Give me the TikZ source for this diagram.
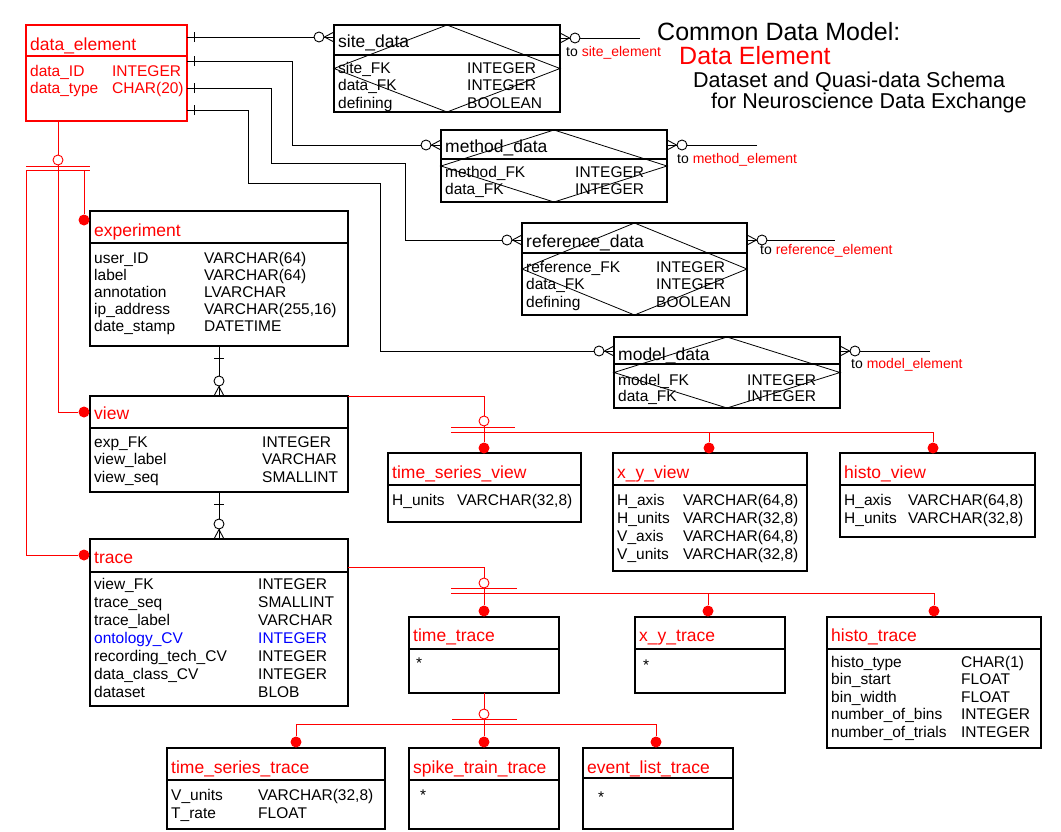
\documentclass[tikz,border=0pt]{standalone}
\usepackage{fontspec}
\setmainfont{Liberation Sans}
\usetikzlibrary{decorations.markings}
\newcommand{\fieldrows}[2]{\begin{tabular}[t]{@{}p{#1}@{}l@{}}#2\end{tabular}}

\begin{document}
\begin{tikzpicture}[
    x=1pt, y=-1pt,
    entity/.style={draw, line width=1.1pt, inner sep=0pt, outer sep=0pt, anchor=north west},
    hdr/.style={line width=1.8pt},
    cross/.style={line width=0.8pt},
    title/.style={anchor=base west, inner sep=0pt, text=red, font=\fontsize{17.5}{20}\selectfont},
    fields/.style={anchor=base west, inner sep=0pt, font=\fontsize{15.5}{17.5}\selectfont},
    tolabel/.style={anchor=base west, inner sep=0pt, font=\fontsize{14}{16}\selectfont},
    heading/.style={anchor=base west, inner sep=0pt, font=\fontsize{25}{28}\selectfont},
    subheading/.style={anchor=base west, inner sep=0pt, font=\fontsize{21.5}{24}\selectfont},
    rel/.style={line width=0.9pt},
    sub/.style={draw=red, line width=0.9pt},
    ring/.style={circle, draw=red, fill=white, line width=0.9pt, minimum size=10pt, inner sep=0pt},
    subdot/.style={circle, fill=red, minimum size=11pt, inner sep=0pt},
    one/.style={postaction={decorate, decoration={markings,
        mark=at position #1 with {\draw (0pt,-5pt) -- (0pt,5pt);}}}},
    one/.default=7pt,
    many/.style={postaction={decorate, decoration={markings,
        mark=at position 1 with {\draw (-9.5pt,0pt) -- (0pt,5pt) (-9.5pt,0pt) -- (0pt,-5pt);
                                 \draw[fill=white] (-15pt,0pt) circle[radius=5pt];}}}},
    ]
    \useasboundingbox (0,0) rectangle (1061,831);

    % Title
    \node[heading] (cdm) at (657,40) {Common Data Model:};
    \node[heading, text=red] (cdm-name) at (679,64) {Data Element};
    \node[subheading] (cdm-sub1) at (693,87) {Dataset and Quasi-data Schema};
    \node[subheading] (cdm-sub2) at (711,108) {for Neuroscience Data Exchange};

    % data_element
    \node[entity, draw=red, minimum width=161pt, minimum height=96pt] (dataelem) at (26,25) {};
    \draw[hdr, red] ([yshift=-31pt]dataelem.north west) -- ([yshift=-31pt]dataelem.north east);
    \node[title] (dataelem-t) at ([shift={(4pt,-25pt)}]dataelem.north west) {data\_element};
    \node[fields, text=red] (dataelem-f) at ([shift={(4pt,-51pt)}]dataelem.north west)
        {\fieldrows{82pt}{data\_ID & INTEGER\\ data\_type & CHAR(20)}};

    % Link tables
    \node[entity, minimum width=226pt, minimum height=87pt] (sitedata) at (334,25) {};
    \draw[hdr] ([yshift=-30pt]sitedata.north west) -- ([yshift=-30pt]sitedata.north east);
    \draw[cross] (sitedata.north) -- (sitedata.east) -- (sitedata.south) -- (sitedata.west) -- cycle;
    \node[title, text=black] (sitedata-t) at ([shift={(4pt,-22pt)}]sitedata.north west) {site\_data};
    \node[fields] (sitedata-f) at ([shift={(4pt,-48pt)}]sitedata.north west)
        {\fieldrows{129pt}{site\_FK & INTEGER\\ data\_FK & INTEGER\\ defining & BOOLEAN}};

    \node[entity, minimum width=226pt, minimum height=72pt] (methoddata) at (441,130) {};
    \draw[hdr] ([yshift=-29pt]methoddata.north west) -- ([yshift=-29pt]methoddata.north east);
    \draw[cross] (methoddata.north) -- (methoddata.east) -- (methoddata.south) -- (methoddata.west) -- cycle;
    \node[title, text=black] (methoddata-t) at ([shift={(4pt,-22pt)}]methoddata.north west) {method\_data};
    \node[fields] (methoddata-f) at ([shift={(4pt,-47pt)}]methoddata.north west)
        {\fieldrows{130pt}{method\_FK & INTEGER\\ data\_FK & INTEGER}};

    \node[entity, minimum width=225pt, minimum height=92pt] (refdata) at (522,223) {};
    \draw[hdr] ([yshift=-30pt]refdata.north west) -- ([yshift=-30pt]refdata.north east);
    \draw[cross] (refdata.north) -- (refdata.east) -- (refdata.south) -- (refdata.west) -- cycle;
    \node[title, text=black] (refdata-t) at ([shift={(4pt,-24pt)}]refdata.north west) {reference\_data};
    \node[fields] (refdata-f) at ([shift={(4pt,-49pt)}]refdata.north west)
        {\fieldrows{130pt}{reference\_FK & INTEGER\\ data\_FK & INTEGER\\ defining & BOOLEAN}};

    \node[entity, minimum width=226pt, minimum height=71pt] (modeldata) at (614,337) {};
    \draw[hdr] ([yshift=-27pt]modeldata.north west) -- ([yshift=-27pt]modeldata.north east);
    \draw[cross] (modeldata.north) -- (modeldata.east) -- (modeldata.south) -- (modeldata.west) -- cycle;
    \node[title, text=black] (modeldata-t) at ([shift={(4pt,-23pt)}]modeldata.north west) {model\_data};
    \node[fields, font=\fontsize{15.5}{16.5}\selectfont] (modeldata-f) at ([shift={(4pt,-48pt)}]modeldata.north west)
        {\fieldrows{129pt}{model\_FK & INTEGER\\ data\_FK & INTEGER}};

    % experiment / view / trace
    \node[entity, minimum width=258pt, minimum height=135pt] (experiment) at (90,211) {};
    \draw[hdr] ([yshift=-32pt]experiment.north west) -- ([yshift=-32pt]experiment.north east);
    \node[title] (experiment-t) at ([shift={(4pt,-25pt)}]experiment.north west) {experiment};
    \node[fields, font=\fontsize{15.5}{17.2}\selectfont] (experiment-f) at ([shift={(4pt,-52pt)}]experiment.north west)
        {\fieldrows{110pt}{user\_ID & VARCHAR(64)\\ label & VARCHAR(64)\\ annotation & LVARCHAR\\
         ip\_address & VARCHAR(255,16)\\ date\_stamp & DATETIME}};

    \node[entity, minimum width=258pt, minimum height=96pt] (view) at (90,396) {};
    \draw[hdr] ([yshift=-32pt]view.north west) -- ([yshift=-32pt]view.north east);
    \node[title] (view-t) at ([shift={(4pt,-23pt)}]view.north west) {view};
    \node[fields] (view-f) at ([shift={(4pt,-51pt)}]view.north west)
        {\fieldrows{168pt}{exp\_FK & INTEGER\\ view\_label & VARCHAR\\ view\_seq & SMALLINT}};

    \node[entity, minimum width=258pt, minimum height=167pt] (trace) at (90,539) {};
    \draw[hdr] ([yshift=-33pt]trace.north west) -- ([yshift=-33pt]trace.north east);
    \node[title] (trace-t) at ([shift={(4pt,-24pt)}]trace.north west) {trace};
    \node[fields, font=\fontsize{15.5}{18}\selectfont] (trace-f) at ([shift={(4pt,-50pt)}]trace.north west)
        {\fieldrows{164pt}{view\_FK & INTEGER\\ trace\_seq & SMALLINT\\ trace\_label & VARCHAR\\
         \textcolor{blue}{ontology\_CV} & \textcolor{blue}{INTEGER}\\ recording\_tech\_CV & INTEGER\\
         data\_class\_CV & INTEGER\\ dataset & BLOB}};

    % view subtypes
    \node[entity, minimum width=193pt, minimum height=69pt] (tsview) at (388,453) {};
    \draw[hdr] ([yshift=-32pt]tsview.north west) -- ([yshift=-32pt]tsview.north east);
    \node[title] (tsview-t) at ([shift={(4pt,-25pt)}]tsview.north west) {time\_series\_view};
    \node[fields] (tsview-f) at ([shift={(4pt,-52pt)}]tsview.north west)
        {\fieldrows{65pt}{H\_units & VARCHAR(32,8)}};

    \node[entity, minimum width=194pt, minimum height=118pt] (xyview) at (613,453) {};
    \draw[hdr] ([yshift=-32pt]xyview.north west) -- ([yshift=-32pt]xyview.north east);
    \node[title] (xyview-t) at ([shift={(4pt,-25pt)}]xyview.north west) {x\_y\_view};
    \node[fields, font=\fontsize{15.5}{18}\selectfont] (xyview-f) at ([shift={(4pt,-52pt)}]xyview.north west)
        {\fieldrows{66pt}{H\_axis & VARCHAR(64,8)\\ H\_units & VARCHAR(32,8)\\
         V\_axis & VARCHAR(64,8)\\ V\_units & VARCHAR(32,8)}};

    \node[entity, minimum width=195pt, minimum height=84pt] (histoview) at (840,453) {};
    \draw[hdr] ([yshift=-32pt]histoview.north west) -- ([yshift=-32pt]histoview.north east);
    \node[title] (histoview-t) at ([shift={(4pt,-25pt)}]histoview.north west) {histo\_view};
    \node[fields, font=\fontsize{15.5}{18}\selectfont] (histoview-f) at ([shift={(4pt,-52pt)}]histoview.north west)
        {\fieldrows{64pt}{H\_axis & VARCHAR(64,8)\\ H\_units & VARCHAR(32,8)}};

    % trace subtypes
    \node[entity, minimum width=150pt, minimum height=76pt] (timetrace) at (409,617) {};
    \draw[hdr] ([yshift=-32pt]timetrace.north west) -- ([yshift=-32pt]timetrace.north east);
    \node[title] (timetrace-t) at ([shift={(4pt,-24pt)}]timetrace.north west) {time\_trace};
    \node[fields] (timetrace-f) at ([shift={(7pt,-51pt)}]timetrace.north west) {*};

    \node[entity, minimum width=150pt, minimum height=76pt] (xytrace) at (635,617) {};
    \draw[hdr] ([yshift=-32pt]xytrace.north west) -- ([yshift=-32pt]xytrace.north east);
    \node[title] (xytrace-t) at ([shift={(4pt,-24pt)}]xytrace.north west) {x\_y\_trace};
    \node[fields] (xytrace-f) at ([shift={(8pt,-53pt)}]xytrace.north west) {*};

    \node[entity, minimum width=214pt, minimum height=131pt] (histotrace) at (827,617) {};
    \draw[hdr] ([yshift=-32pt]histotrace.north west) -- ([yshift=-32pt]histotrace.north east);
    \node[title] (histotrace-t) at ([shift={(4pt,-24pt)}]histotrace.north west) {histo\_trace};
    \node[fields] (histotrace-f) at ([shift={(4pt,-50pt)}]histotrace.north west)
        {\fieldrows{130pt}{histo\_type & CHAR(1)\\ bin\_start & FLOAT\\ bin\_width & FLOAT\\
         number\_of\_bins & INTEGER\\ number\_of\_trials & INTEGER}};

    % time_trace subtypes
    \node[entity, minimum width=218pt, minimum height=81pt] (tstrace) at (167,748) {};
    \draw[hdr] ([yshift=-32pt]tstrace.north west) -- ([yshift=-32pt]tstrace.north east);
    \node[title] (tstrace-t) at ([shift={(4pt,-25pt)}]tstrace.north west) {time\_series\_trace};
    \node[fields, font=\fontsize{15.5}{18}\selectfont] (tstrace-f) at ([shift={(4pt,-52pt)}]tstrace.north west)
        {\fieldrows{87pt}{V\_units & VARCHAR(32,8)\\ T\_rate & FLOAT}};

    \node[entity, minimum width=150pt, minimum height=81pt] (spiketrace) at (409,748) {};
    \draw[hdr] ([yshift=-32pt]spiketrace.north west) -- ([yshift=-32pt]spiketrace.north east);
    \node[title] (spiketrace-t) at ([shift={(4pt,-25pt)}]spiketrace.north west) {spike\_train\_trace};
    \node[fields] (spiketrace-f) at ([shift={(11pt,-52pt)}]spiketrace.north west) {*};

    \node[entity, minimum width=150pt, minimum height=81pt] (eventtrace) at (583,748) {};
    \draw[hdr] ([yshift=-30pt]eventtrace.north west) -- ([yshift=-30pt]eventtrace.north east);
    \node[title] (eventtrace-t) at ([shift={(4pt,-25pt)}]eventtrace.north west) {event\_list\_trace};
    \node[fields] (eventtrace-f) at ([shift={(15pt,-54pt)}]eventtrace.north west) {*};

    % Relationships of data_element
    \coordinate (m-bend) at (292,145);
    \coordinate (r-bend) at (271,163);
    \coordinate (r-bend2) at (405,240);
    \coordinate (d-bend) at (248,183);
    \coordinate (d-bend2) at (380,351);
    \draw[rel, one, many] (dataelem.east |- 0,37) -- (sitedata.west |- 0,37);
    \draw[rel, one, many] (dataelem.east |- 0,61) -| (m-bend) -- (methoddata.west |- m-bend);
    \draw[rel, one, many] (dataelem.east |- 0,88) -| (r-bend) -| (r-bend2) -- (refdata.west |- r-bend2);
    \draw[rel, one, many] (dataelem.east |- 0,110) -| (d-bend) -| (d-bend2) -- (modeldata.west |- d-bend2);

    % Links out to the other elements
    \coordinate (site-end) at (640,38);
    \coordinate (method-end) at (757,145);
    \coordinate (ref-end) at (835,240);
    \coordinate (model-end) at (930,351);
    \draw[rel, many] (site-end) -- (sitedata.east |- site-end);
    \draw[rel, many] (method-end) -- (methoddata.east |- method-end);
    \draw[rel, many] (ref-end) -- (refdata.east |- ref-end);
    \draw[rel, many] (model-end) -- (modeldata.east |- model-end);
    \node[tolabel] (site-to) at (566,56) {to \textcolor{red}{site\_element}};
    \node[tolabel] (method-to) at (677,163) {to \textcolor{red}{method\_element}};
    \node[tolabel] (ref-to) at (760,254) {to \textcolor{red}{reference\_element}};
    \node[tolabel] (model-to) at (851,368) {to \textcolor{red}{model\_element}};

    % experiment -> view -> trace
    \draw[rel, one=12pt, many] (experiment.south) -- (view.north);
    \draw[rel, one=12pt, many] (view.south) -- (trace.north);

    % Subtypes of data_element
    \node[ring] (de-ring) at (58,160) {};
    \node[subdot] (d-exp) at (84,220) {};
    \node[subdot] (d-view) at (84,412) {};
    \node[subdot] (d-trace) at (84,555) {};
    \coordinate (de-bar) at ([shift={(-32pt,-10.5pt)}]de-ring.center);
    \draw[sub] (de-ring |- dataelem.south) -- (de-ring);
    \draw[sub] ([shift={(-32pt,-6pt)}]de-ring.center) -- ++(64pt,0pt);
    \draw[sub] (de-bar) -- ++(64pt,0pt);
    \draw[sub] (de-bar) |- (d-trace);
    \draw[sub] (de-ring) |- (d-view);
    \draw[sub] (de-bar -| d-exp) -- (d-exp);

    % Subtypes of view
    \node[ring] (vw-ring) at (484,421) {};
    \node[subdot] (d-tsv) at (484,448) {};
    \node[subdot] (d-xyv) at (709,448) {};
    \node[subdot] (d-hv) at (933,448) {};
    \coordinate (vw-bar) at ([shift={(-33pt,-11pt)}]vw-ring.center);
    \draw[sub] (view.north east) -| (vw-ring);
    \draw[sub] ([shift={(-33pt,-6pt)}]vw-ring.center) -- ++(64pt,0pt);
    \draw[sub] (vw-bar) -| (d-hv);
    \draw[sub] (vw-ring) -- (d-tsv);
    \draw[sub] (vw-bar -| d-xyv) -- (d-xyv);

    % Subtypes of trace
    \node[ring] (tr-ring) at (484,583) {};
    \node[subdot] (d-tt) at (484,611) {};
    \node[subdot] (d-xyt) at (708,611) {};
    \node[subdot] (d-ht) at (934,611) {};
    \coordinate (tr-bar) at ([shift={(-33pt,-10pt)}]tr-ring.center);
    \draw[sub] ([yshift=-28pt]trace.north east) -| (tr-ring);
    \draw[sub] ([shift={(-33pt,-5pt)}]tr-ring.center) -- ++(66pt,0pt);
    \draw[sub] (tr-bar) -| (d-ht);
    \draw[sub] (tr-ring) -- (d-tt);
    \draw[sub] (tr-bar -| d-xyt) -- (d-xyt);

    % Subtypes of time_trace
    \node[ring] (tt-ring) at (484,714) {};
    \node[subdot] (d-tst) at (296,742) {};
    \node[subdot] (d-stt) at (484,742) {};
    \node[subdot] (d-elt) at (656,742) {};
    \coordinate (tt-bar) at ([yshift=-10pt]tt-ring.center);
    \draw[sub] (timetrace.south) -- (tt-ring);
    \draw[sub] ([shift={(-32pt,-5pt)}]tt-ring.center) -- ++(65pt,0pt);
    \draw[sub] (d-tst) |- (tt-bar) -| (d-elt);
    \draw[sub] (tt-ring) -- (d-stt);
\end{tikzpicture}
\end{document}
